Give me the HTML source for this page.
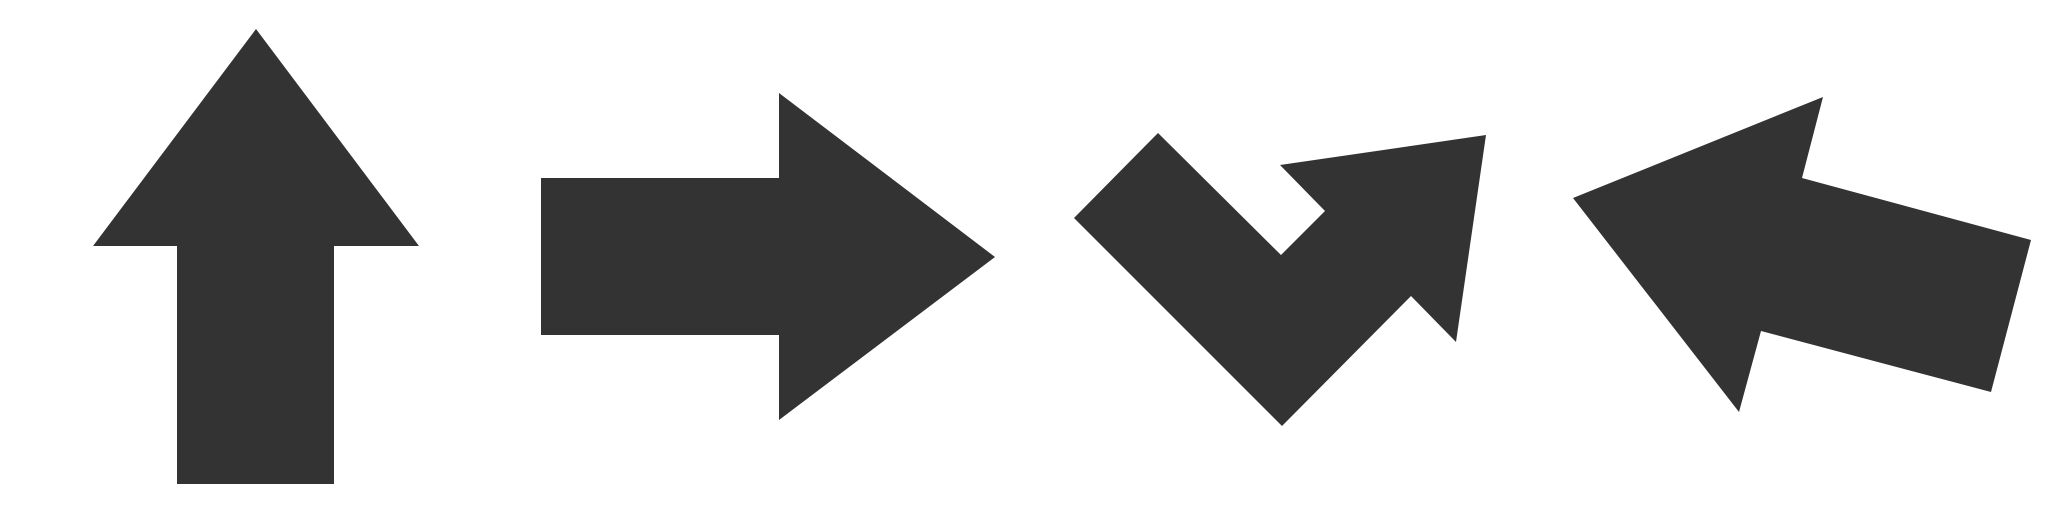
<!DOCTYPE html>
<html>
<head>
<meta charset="utf-8">
<style>
html,body{margin:0;padding:0;background:#fff;width:2048px;height:512px;overflow:hidden;}
svg{display:block;}
</style>
</head>
<body>
<svg width="2048" height="512" viewBox="0 0 2048 512">
  <rect x="0" y="0" width="2048" height="512" fill="#ffffff"/>
  <polygon fill="#333333"
    points="256,29 419,246 334,246 334,484 177,484 177,246 93,246"/>
  <polygon fill="#333333"
    points="541,178 779,178 779,93 995,257 779,420 779,335 541,335"/>
  <polygon fill="#333333"
    points="1074,218 1158,133 1281,255 1325,211 1280,165 1486,135 1456,342 1411,296 1282,426"/>
  <polygon fill="#333333"
    points="1573,198 1823,97 1802,178 2031,240 1991,392 1761,331 1739,412"/>
</svg>
</body>
</html>
